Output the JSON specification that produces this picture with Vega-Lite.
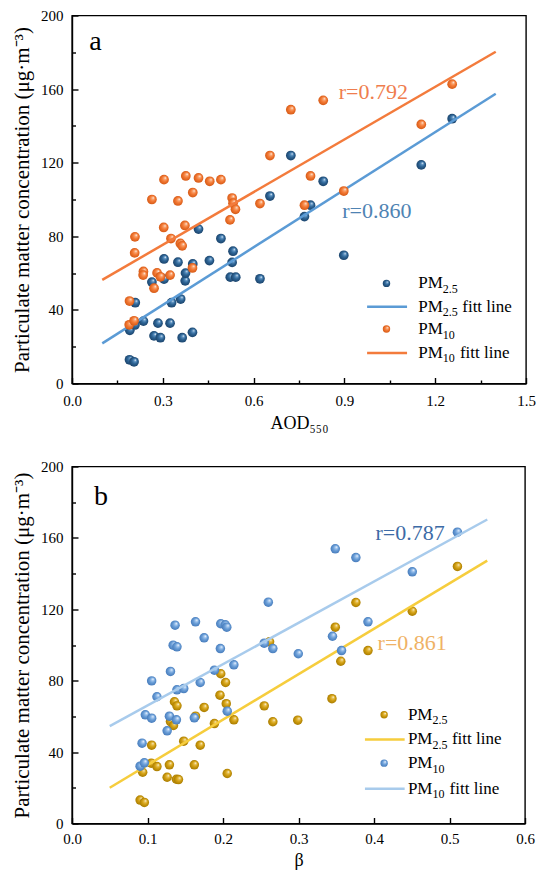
{
  "$schema": "https://vega.github.io/schema/vega-lite/v6.json",
  "padding": {"left": 10, "top": 7.5, "right": 0, "bottom": 0},
  "spacing": 25,
  "config": {
    "font": "Times New Roman, Liberation Serif, serif",
    "view": {"stroke": "black", "strokeWidth": 1.4},
    "axis": {
      "grid": false, "domainColor": "black", "domainWidth": 1.4,
      "tickColor": "black", "tickWidth": 1.4, "tickSize": -6,
      "labelFont": "Times New Roman, Liberation Serif, serif", "labelFontSize": 15, "labelColor": "black",
      "titleFont": "Times New Roman, Liberation Serif, serif", "titleFontSize": 18, "titleFontWeight": "normal", "titleColor": "black",
      "labelFlush": false, "labelOverlap": false, "labelBound": false
    },
    "axisY": {"labelPadding": 15, "titlePadding": 8, "titleFontSize": 21},
    "text": {"font": "Times New Roman, Liberation Serif, serif", "color": "black"}
  },
  "datasets": {
    "a_pts": [
      {"x":0.190,"y":12.9,"s":"PM2.5"},{"x":0.205,"y":11.8,"s":"PM2.5"},{"x":0.191,"y":28.9,"s":"PM2.5"},{"x":0.208,"y":31.8,"s":"PM2.5"},
      {"x":0.209,"y":43.9,"s":"PM2.5"},{"x":0.236,"y":33.9,"s":"PM2.5"},{"x":0.264,"y":55.1,"s":"PM2.5"},{"x":0.271,"y":25.9,"s":"PM2.5"},
      {"x":0.284,"y":32.8,"s":"PM2.5"},{"x":0.292,"y":24.9,"s":"PM2.5"},{"x":0.304,"y":67.7,"s":"PM2.5"},{"x":0.304,"y":56.7,"s":"PM2.5"},
      {"x":0.324,"y":32.8,"s":"PM2.5"},{"x":0.329,"y":43.9,"s":"PM2.5"},{"x":0.350,"y":65.9,"s":"PM2.5"},{"x":0.359,"y":45.9,"s":"PM2.5"},
      {"x":0.364,"y":24.9,"s":"PM2.5"},{"x":0.374,"y":55.8,"s":"PM2.5"},{"x":0.375,"y":60.0,"s":"PM2.5"},{"x":0.398,"y":27.8,"s":"PM2.5"},
      {"x":0.399,"y":65.0,"s":"PM2.5"},{"x":0.418,"y":83.9,"s":"PM2.5"},{"x":0.454,"y":66.8,"s":"PM2.5"},{"x":0.492,"y":78.8,"s":"PM2.5"},
      {"x":0.523,"y":57.8,"s":"PM2.5"},{"x":0.529,"y":65.8,"s":"PM2.5"},{"x":0.532,"y":71.9,"s":"PM2.5"},{"x":0.541,"y":57.8,"s":"PM2.5"},
      {"x":0.621,"y":56.9,"s":"PM2.5"},{"x":0.654,"y":101.9,"s":"PM2.5"},{"x":0.723,"y":123.9,"s":"PM2.5"},{"x":0.768,"y":90.7,"s":"PM2.5"},
      {"x":0.788,"y":96.9,"s":"PM2.5"},{"x":0.830,"y":109.9,"s":"PM2.5"},{"x":0.898,"y":69.7,"s":"PM2.5"},{"x":1.154,"y":118.8,"s":"PM2.5"},
      {"x":1.256,"y":143.9,"s":"PM2.5"},
      {"x":0.189,"y":31.9,"s":"PM10"},{"x":0.205,"y":34.1,"s":"PM10"},{"x":0.190,"y":44.8,"s":"PM10"},{"x":0.207,"y":71.0,"s":"PM10"},
      {"x":0.208,"y":79.7,"s":"PM10"},{"x":0.236,"y":60.9,"s":"PM10"},{"x":0.235,"y":58.9,"s":"PM10"},{"x":0.271,"y":51.8,"s":"PM10"},
      {"x":0.264,"y":100.0,"s":"PM10"},{"x":0.281,"y":60.1,"s":"PM10"},{"x":0.292,"y":58.0,"s":"PM10"},{"x":0.303,"y":84.8,"s":"PM10"},
      {"x":0.304,"y":110.8,"s":"PM10"},{"x":0.324,"y":58.9,"s":"PM10"},{"x":0.327,"y":78.8,"s":"PM10"},{"x":0.350,"y":99.2,"s":"PM10"},
      {"x":0.358,"y":76.1,"s":"PM10"},{"x":0.364,"y":74.8,"s":"PM10"},{"x":0.373,"y":85.9,"s":"PM10"},{"x":0.376,"y":112.8,"s":"PM10"},
      {"x":0.398,"y":62.8,"s":"PM10"},{"x":0.399,"y":103.8,"s":"PM10"},{"x":0.418,"y":111.7,"s":"PM10"},{"x":0.455,"y":109.9,"s":"PM10"},
      {"x":0.492,"y":110.8,"s":"PM10"},{"x":0.522,"y":88.9,"s":"PM10"},{"x":0.529,"y":100.8,"s":"PM10"},{"x":0.532,"y":98.0,"s":"PM10"},
      {"x":0.540,"y":94.7,"s":"PM10"},{"x":0.621,"y":97.8,"s":"PM10"},{"x":0.654,"y":123.9,"s":"PM10"},{"x":0.723,"y":148.8,"s":"PM10"},
      {"x":0.768,"y":96.9,"s":"PM10"},{"x":0.788,"y":112.8,"s":"PM10"},{"x":0.830,"y":153.9,"s":"PM10"},{"x":0.898,"y":104.6,"s":"PM10"},
      {"x":1.154,"y":140.8,"s":"PM10"},{"x":1.256,"y":162.7,"s":"PM10"}
    ],
    "a_fit": [
      {"x":0.1,"y":21.8,"s":"PM2.5"},{"x":1.4,"y":157.5,"s":"PM2.5"},
      {"x":0.1,"y":56.3,"s":"PM10"},{"x":1.4,"y":180.3,"s":"PM10"}
    ],
    "a_leg": [
      {"s":"PM2.5","k":"pt","x":1.039,"y":54.4},
      {"s":"PM2.5","k":"ln","x":0.975,"x2":1.107,"y":41.7},
      {"s":"PM10","k":"pt","x":1.039,"y":29.6},
      {"s":"PM10","k":"ln","x":0.975,"x2":1.107,"y":16.6}
    ],
    "a_legtxt": [
      {"x":1.144,"y":54.4,"sub":"2.5","fit":"n"},
      {"x":1.144,"y":41.7,"sub":"2.5","fit":"y"},
      {"x":1.144,"y":29.6,"sub":"10","fit":"n"},
      {"x":1.144,"y":16.6,"sub":"10","fit":"y"}
    ],
    "b_pts": [
      {"x":0.0902,"y":13.1,"s":"PM2.5"},{"x":0.0958,"y":11.8,"s":"PM2.5"},{"x":0.0936,"y":28.7,"s":"PM2.5"},{"x":0.105,"y":33.8,"s":"PM2.5"},
      {"x":0.1055,"y":43.9,"s":"PM2.5"},{"x":0.1125,"y":31.9,"s":"PM2.5"},{"x":0.126,"y":25.9,"s":"PM2.5"},{"x":0.129,"y":32.9,"s":"PM2.5"},
      {"x":0.1304,"y":57.1,"s":"PM2.5"},{"x":0.1344,"y":54.9,"s":"PM2.5"},{"x":0.1357,"y":68.2,"s":"PM2.5"},{"x":0.1383,"y":24.8,"s":"PM2.5"},
      {"x":0.141,"y":24.6,"s":"PM2.5"},{"x":0.139,"y":65.9,"s":"PM2.5"},{"x":0.148,"y":46.1,"s":"PM2.5"},{"x":0.162,"y":32.9,"s":"PM2.5"},
      {"x":0.1636,"y":60.1,"s":"PM2.5"},{"x":0.1698,"y":43.9,"s":"PM2.5"},{"x":0.175,"y":65.0,"s":"PM2.5"},{"x":0.1886,"y":56.0,"s":"PM2.5"},
      {"x":0.196,"y":71.9,"s":"PM2.5"},{"x":0.197,"y":83.9,"s":"PM2.5"},{"x":0.2034,"y":79.0,"s":"PM2.5"},{"x":0.2043,"y":67.1,"s":"PM2.5"},
      {"x":0.2056,"y":28.0,"s":"PM2.5"},{"x":0.2144,"y":58.1,"s":"PM2.5"},{"x":0.2546,"y":65.9,"s":"PM2.5"},{"x":0.2617,"y":101.8,"s":"PM2.5"},
      {"x":0.266,"y":57.0,"s":"PM2.5"},{"x":0.299,"y":57.9,"s":"PM2.5"},{"x":0.3443,"y":69.9,"s":"PM2.5"},{"x":0.3487,"y":110.0,"s":"PM2.5"},
      {"x":0.356,"y":90.9,"s":"PM2.5"},{"x":0.376,"y":123.8,"s":"PM2.5"},{"x":0.392,"y":96.9,"s":"PM2.5"},{"x":0.4507,"y":118.9,"s":"PM2.5"},
      {"x":0.5105,"y":144.0,"s":"PM2.5"},
      {"x":0.0902,"y":32.1,"s":"PM10"},{"x":0.0958,"y":34.0,"s":"PM10"},{"x":0.0928,"y":45.0,"s":"PM10"},{"x":0.0971,"y":60.9,"s":"PM10"},
      {"x":0.1055,"y":59.0,"s":"PM10"},{"x":0.1055,"y":79.9,"s":"PM10"},{"x":0.1125,"y":71.0,"s":"PM10"},{"x":0.126,"y":51.9,"s":"PM10"},
      {"x":0.129,"y":60.1,"s":"PM10"},{"x":0.1304,"y":85.2,"s":"PM10"},{"x":0.134,"y":99.9,"s":"PM10"},{"x":0.139,"y":99.0,"s":"PM10"},
      {"x":0.1365,"y":111.1,"s":"PM10"},{"x":0.1383,"y":58.1,"s":"PM10"},{"x":0.139,"y":74.9,"s":"PM10"},{"x":0.148,"y":75.6,"s":"PM10"},
      {"x":0.162,"y":59.2,"s":"PM10"},{"x":0.1636,"y":113.0,"s":"PM10"},{"x":0.1698,"y":79.0,"s":"PM10"},{"x":0.175,"y":104.0,"s":"PM10"},
      {"x":0.1886,"y":85.9,"s":"PM10"},{"x":0.1965,"y":98.0,"s":"PM10"},{"x":0.197,"y":111.9,"s":"PM10"},{"x":0.203,"y":111.3,"s":"PM10"},
      {"x":0.205,"y":110.0,"s":"PM10"},{"x":0.2056,"y":62.9,"s":"PM10"},{"x":0.2144,"y":88.9,"s":"PM10"},{"x":0.2546,"y":101.0,"s":"PM10"},
      {"x":0.260,"y":124.0,"s":"PM10"},{"x":0.266,"y":98.0,"s":"PM10"},{"x":0.2997,"y":95.1,"s":"PM10"},{"x":0.345,"y":104.9,"s":"PM10"},
      {"x":0.3487,"y":153.9,"s":"PM10"},{"x":0.357,"y":96.9,"s":"PM10"},{"x":0.376,"y":149.0,"s":"PM10"},{"x":0.392,"y":113.0,"s":"PM10"},
      {"x":0.4507,"y":141.0,"s":"PM10"},{"x":0.5105,"y":163.2,"s":"PM10"}
    ],
    "b_fit": [
      {"x":0.05,"y":20.0,"s":"PM2.5"},{"x":0.55,"y":147.3,"s":"PM2.5"},
      {"x":0.05,"y":54.5,"s":"PM10"},{"x":0.55,"y":170.3,"s":"PM10"}
    ],
    "b_leg": [
      {"s":"PM2.5","k":"pt","x":0.4134,"y":60.9},
      {"s":"PM2.5","k":"ln","x":0.388,"x2":0.4406,"y":47.1},
      {"s":"PM10","k":"pt","x":0.4134,"y":33.8},
      {"s":"PM10","k":"ln","x":0.388,"x2":0.4406,"y":19.4}
    ],
    "b_legtxt": [
      {"x":0.4449,"y":60.9,"sub":"2.5","fit":"n"},
      {"x":0.4449,"y":47.1,"sub":"2.5","fit":"y"},
      {"x":0.4449,"y":33.8,"sub":"10","fit":"n"},
      {"x":0.4449,"y":19.4,"sub":"10","fit":"y"}
    ]
  },
  "vconcat": [
    {
      "width": 454, "height": 368,
      "resolve": {"axis": {"x": "independent", "y": "independent"}},
      "layer": [
        {
          "encoding": {
            "x": {"field": "x", "type": "quantitative", "scale": {"domain": [0, 1.5], "nice": false, "zero": false},
                  "axis": {"values": [0, 0.3, 0.6, 0.9, 1.2, 1.5], "format": ".1f", "title": "AOD₅₅₀", "labelPadding": 16.3, "titlePadding": 6}},
            "y": {"field": "y", "type": "quantitative", "scale": {"domain": [0, 200], "nice": false},
                  "axis": {"values": [0, 40, 80, 120, 160, 200], "title": "Particulate matter concentration (μg·m⁻³)"}}
          },
          "layer": [
            {"data": {"name": "a_pts"}, "transform": [{"filter": "datum.s == 'PM2.5'"}],
             "mark": {"type": "point", "filled": true, "size": 95, "strokeWidth": 0, "opacity": 1,
                      "fill": {"gradient": "radial", "x1": 0.66, "y1": 0.3, "r1": 0, "x2": 0.5, "y2": 0.5, "r2": 0.5,
                               "stops": [{"offset": 0, "color": "#ffffff"}, {"offset": 0.25, "color": "#5e93c2"}, {"offset": 0.55, "color": "#2e6596"}, {"offset": 1, "color": "#1b446c"}]}},
             "encoding": {}},
            {"data": {"name": "a_fit"}, "transform": [{"filter": "datum.s == 'PM2.5'"}],
             "mark": {"type": "line", "color": "#5b9bd5", "strokeWidth": 2.5}, "encoding": {}},
            {"data": {"name": "a_pts"}, "transform": [{"filter": "datum.s == 'PM10'"}],
             "mark": {"type": "point", "filled": true, "size": 95, "strokeWidth": 0, "opacity": 1,
                      "fill": {"gradient": "radial", "x1": 0.66, "y1": 0.3, "r1": 0, "x2": 0.5, "y2": 0.5, "r2": 0.5,
                               "stops": [{"offset": 0, "color": "#ffffff"}, {"offset": 0.25, "color": "#f9a673"}, {"offset": 0.55, "color": "#f47a35"}, {"offset": 1, "color": "#d65a16"}]}},
             "encoding": {}},
            {"data": {"name": "a_fit"}, "transform": [{"filter": "datum.s == 'PM10'"}],
             "mark": {"type": "line", "color": "#f37b3c", "strokeWidth": 2.5}, "encoding": {}},
            {"data": {"values": [{"x": 0.893, "y": 90.2, "t": "r=0.860"}]},
             "mark": {"type": "text", "align": "left", "baseline": "alphabetic", "fontSize": 22, "color": "#4f83b3"},
             "encoding": {"text": {"field": "t"}}},
            {"data": {"values": [{"x": 0.881, "y": 154.4, "t": "r=0.792"}]},
             "mark": {"type": "text", "align": "left", "baseline": "alphabetic", "fontSize": 22, "color": "#ef7d4e"},
             "encoding": {"text": {"field": "t"}}},
            {"data": {"values": [{"x": 0.057, "y": 181.5, "t": "a"}]},
             "mark": {"type": "text", "align": "left", "baseline": "alphabetic", "fontSize": 28, "color": "black"},
             "encoding": {"text": {"field": "t"}}},
            {"data": {"name": "a_leg"}, "transform": [{"filter": "datum.k == 'pt' && datum.s == 'PM2.5'"}],
             "mark": {"type": "point", "filled": true, "size": 55, "strokeWidth": 0, "opacity": 1,
                      "fill": {"gradient": "radial", "x1": 0.66, "y1": 0.3, "r1": 0, "x2": 0.5, "y2": 0.5, "r2": 0.5,
                               "stops": [{"offset": 0, "color": "#ffffff"}, {"offset": 0.25, "color": "#5e93c2"}, {"offset": 0.55, "color": "#2e6596"}, {"offset": 1, "color": "#1b446c"}]}},
             "encoding": {}},
            {"data": {"name": "a_leg"}, "transform": [{"filter": "datum.k == 'ln' && datum.s == 'PM2.5'"}],
             "mark": {"type": "rule", "color": "#5b9bd5", "strokeWidth": 2.5},
             "encoding": {"x2": {"field": "x2"}}},
            {"data": {"name": "a_leg"}, "transform": [{"filter": "datum.k == 'pt' && datum.s == 'PM10'"}],
             "mark": {"type": "point", "filled": true, "size": 55, "strokeWidth": 0, "opacity": 1,
                      "fill": {"gradient": "radial", "x1": 0.66, "y1": 0.3, "r1": 0, "x2": 0.5, "y2": 0.5, "r2": 0.5,
                               "stops": [{"offset": 0, "color": "#ffffff"}, {"offset": 0.25, "color": "#f9a673"}, {"offset": 0.55, "color": "#f47a35"}, {"offset": 1, "color": "#d65a16"}]}},
             "encoding": {}},
            {"data": {"name": "a_leg"}, "transform": [{"filter": "datum.k == 'ln' && datum.s == 'PM10'"}],
             "mark": {"type": "rule", "color": "#f37b3c", "strokeWidth": 2.5},
             "encoding": {"x2": {"field": "x2"}}},
            {"data": {"name": "a_legtxt"},
             "mark": {"type": "text", "text": "PM", "align": "left", "baseline": "middle", "fontSize": 17, "color": "black"},
             "encoding": {}},
            {"data": {"name": "a_legtxt"},
             "mark": {"type": "text", "align": "left", "baseline": "middle", "fontSize": 12, "dx": 24.6, "dy": 5.5, "color": "black"},
             "encoding": {"text": {"field": "sub"}}},
            {"data": {"name": "a_legtxt"}, "transform": [{"filter": "datum.fit == 'y' && datum.sub == '2.5'"}],
             "mark": {"type": "text", "text": "fitt line", "align": "left", "baseline": "middle", "fontSize": 17, "dx": 44, "color": "black"},
             "encoding": {}},
            {"data": {"name": "a_legtxt"}, "transform": [{"filter": "datum.fit == 'y' && datum.sub == '10'"}],
             "mark": {"type": "text", "text": "fitt line", "align": "left", "baseline": "middle", "fontSize": 17, "dx": 41.7, "color": "black"},
             "encoding": {}}
          ]
        },
        {
          "data": {"name": "a_fit"},
          "mark": {"type": "point", "opacity": 0},
          "encoding": {
            "x": {"field": "x", "type": "quantitative", "scale": {"domain": [0, 1.5], "nice": false, "zero": false},
                  "axis": {"orient": "bottom", "values": [0.15, 0.45, 0.75, 1.05, 1.35], "labels": false, "domain": false, "tickSize": -3.5, "title": null}},
            "y": {"field": "y", "type": "quantitative", "scale": {"domain": [0, 200], "nice": false},
                  "axis": {"orient": "left", "values": [20, 60, 100, 140, 180], "labels": false, "domain": false, "tickSize": -3.5, "title": null}}
          }
        }
      ]
    },
    {
      "width": 453, "height": 357,
      "resolve": {"axis": {"x": "independent", "y": "independent"}},
      "layer": [
        {
          "encoding": {
            "x": {"field": "x", "type": "quantitative", "scale": {"domain": [0, 0.6], "nice": false, "zero": false},
                  "axis": {"values": [0, 0.1, 0.2, 0.3, 0.4, 0.5, 0.6], "format": ".1f", "title": "β", "labelPadding": 14.3, "titlePadding": 5}},
            "y": {"field": "y", "type": "quantitative", "scale": {"domain": [0, 200], "nice": false},
                  "axis": {"values": [0, 40, 80, 120, 160, 200], "title": "Particulate matter concentration (μg·m⁻³)"}}
          },
          "layer": [
            {"data": {"name": "b_pts"}, "transform": [{"filter": "datum.s == 'PM2.5'"}],
             "mark": {"type": "point", "filled": true, "size": 90, "strokeWidth": 0, "opacity": 1,
                      "fill": {"gradient": "radial", "x1": 0.66, "y1": 0.3, "r1": 0, "x2": 0.5, "y2": 0.5, "r2": 0.5,
                               "stops": [{"offset": 0, "color": "#ffffff"}, {"offset": 0.25, "color": "#e8c255"}, {"offset": 0.55, "color": "#d3a012"}, {"offset": 1, "color": "#a97c00"}]}},
             "encoding": {}},
            {"data": {"name": "b_fit"}, "transform": [{"filter": "datum.s == 'PM2.5'"}],
             "mark": {"type": "line", "color": "#f6cd3d", "strokeWidth": 2.5}, "encoding": {}},
            {"data": {"name": "b_pts"}, "transform": [{"filter": "datum.s == 'PM10'"}],
             "mark": {"type": "point", "filled": true, "size": 90, "strokeWidth": 0, "opacity": 1,
                      "fill": {"gradient": "radial", "x1": 0.66, "y1": 0.3, "r1": 0, "x2": 0.5, "y2": 0.5, "r2": 0.5,
                               "stops": [{"offset": 0, "color": "#ffffff"}, {"offset": 0.25, "color": "#a5c7ee"}, {"offset": 0.55, "color": "#6b9fd8"}, {"offset": 1, "color": "#477cbc"}]}},
             "encoding": {}},
            {"data": {"name": "b_fit"}, "transform": [{"filter": "datum.s == 'PM10'"}],
             "mark": {"type": "line", "color": "#a8cbec", "strokeWidth": 2.5}, "encoding": {}},
            {"data": {"values": [{"x": 0.402, "y": 158.9, "t": "r=0.787"}]},
             "mark": {"type": "text", "align": "left", "baseline": "alphabetic", "fontSize": 22, "color": "#3d6ba6"},
             "encoding": {"text": {"field": "t"}}},
            {"data": {"values": [{"x": 0.4048, "y": 97.3, "t": "r=0.861"}]},
             "mark": {"type": "text", "align": "left", "baseline": "alphabetic", "fontSize": 22, "color": "#efb265"},
             "encoding": {"text": {"field": "t"}}},
            {"data": {"values": [{"x": 0.029, "y": 178.7, "t": "b"}]},
             "mark": {"type": "text", "align": "left", "baseline": "alphabetic", "fontSize": 28, "color": "black"},
             "encoding": {"text": {"field": "t"}}},
            {"data": {"name": "b_leg"}, "transform": [{"filter": "datum.k == 'pt' && datum.s == 'PM2.5'"}],
             "mark": {"type": "point", "filled": true, "size": 55, "strokeWidth": 0, "opacity": 1,
                      "fill": {"gradient": "radial", "x1": 0.66, "y1": 0.3, "r1": 0, "x2": 0.5, "y2": 0.5, "r2": 0.5,
                               "stops": [{"offset": 0, "color": "#ffffff"}, {"offset": 0.25, "color": "#e8c255"}, {"offset": 0.55, "color": "#d3a012"}, {"offset": 1, "color": "#a97c00"}]}},
             "encoding": {}},
            {"data": {"name": "b_leg"}, "transform": [{"filter": "datum.k == 'ln' && datum.s == 'PM2.5'"}],
             "mark": {"type": "rule", "color": "#f6cd3d", "strokeWidth": 2.5},
             "encoding": {"x2": {"field": "x2"}}},
            {"data": {"name": "b_leg"}, "transform": [{"filter": "datum.k == 'pt' && datum.s == 'PM10'"}],
             "mark": {"type": "point", "filled": true, "size": 55, "strokeWidth": 0, "opacity": 1,
                      "fill": {"gradient": "radial", "x1": 0.66, "y1": 0.3, "r1": 0, "x2": 0.5, "y2": 0.5, "r2": 0.5,
                               "stops": [{"offset": 0, "color": "#ffffff"}, {"offset": 0.25, "color": "#a5c7ee"}, {"offset": 0.55, "color": "#6b9fd8"}, {"offset": 1, "color": "#477cbc"}]}},
             "encoding": {}},
            {"data": {"name": "b_leg"}, "transform": [{"filter": "datum.k == 'ln' && datum.s == 'PM10'"}],
             "mark": {"type": "rule", "color": "#a8cbec", "strokeWidth": 2.5},
             "encoding": {"x2": {"field": "x2"}}},
            {"data": {"name": "b_legtxt"},
             "mark": {"type": "text", "text": "PM", "align": "left", "baseline": "middle", "fontSize": 17, "color": "black"},
             "encoding": {}},
            {"data": {"name": "b_legtxt"},
             "mark": {"type": "text", "align": "left", "baseline": "middle", "fontSize": 12, "dx": 24.6, "dy": 5.5, "color": "black"},
             "encoding": {"text": {"field": "sub"}}},
            {"data": {"name": "b_legtxt"}, "transform": [{"filter": "datum.fit == 'y' && datum.sub == '2.5'"}],
             "mark": {"type": "text", "text": "fitt line", "align": "left", "baseline": "middle", "fontSize": 17, "dx": 44, "color": "black"},
             "encoding": {}},
            {"data": {"name": "b_legtxt"}, "transform": [{"filter": "datum.fit == 'y' && datum.sub == '10'"}],
             "mark": {"type": "text", "text": "fitt line", "align": "left", "baseline": "middle", "fontSize": 17, "dx": 41.7, "color": "black"},
             "encoding": {}}
          ]
        },
        {
          "data": {"name": "b_fit"},
          "mark": {"type": "point", "opacity": 0},
          "encoding": {
            "x": {"field": "x", "type": "quantitative", "scale": {"domain": [0, 0.6], "nice": false, "zero": false}, "axis": null},
            "y": {"field": "y", "type": "quantitative", "scale": {"domain": [0, 200], "nice": false},
                  "axis": {"orient": "left", "values": [20, 60, 100, 140, 180], "labels": false, "domain": false, "tickSize": -3.5, "title": null}}
          }
        }
      ]
    }
  ]
}
